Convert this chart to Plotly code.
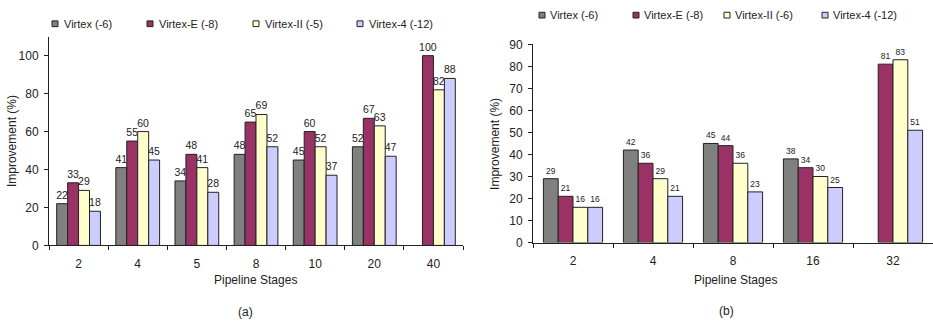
import plotly.graph_objects as go

# ---- data -------------------------------------------------------------
series_a = ["Virtex (-6)", "Virtex-E (-8)", "Virtex-II (-5)", "Virtex-4 (-12)"]
series_b = ["Virtex (-6)", "Virtex-E (-8)", "Virtex-II (-6)", "Virtex-4 (-12)"]
colors = ["#808080", "#993366", "#FFFFCC", "#CCCCFF"]

stages_a = ["2", "4", "5", "8", "10", "20", "40"]
virtex_a = [22, 41, 34, 48, 45, 52, None]
virtex_e_a = [33, 55, 48, 65, 60, 67, 100]
virtex_ii_a = [29, 60, 41, 69, 52, 63, 82]
virtex_4_a = [18, 45, 28, 52, 37, 47, 88]

stages_b = ["2", "4", "8", "16", "32"]
virtex_b = [29, 42, 45, 38, None]
virtex_e_b = [21, 36, 44, 34, 81]
virtex_ii_b = [16, 29, 36, 30, 83]
virtex_4_b = [16, 21, 23, 25, 51]

values_a = [virtex_a, virtex_e_a, virtex_ii_a, virtex_4_a]
values_b = [virtex_b, virtex_e_b, virtex_ii_b, virtex_4_b]

W, H = 933, 330
FONT = "Arial, Liberation Sans, sans-serif"


def px(x):
    return x / W


def py(y):
    return 1 - y / H


fig = go.Figure()

for name, col, vals in zip(series_a, colors, values_a):
    fig.add_trace(go.Bar(
        x=stages_a, y=vals, name=name, xaxis="x", yaxis="y",
        marker=dict(color=col, line=dict(color="#222222", width=1)),
        text=[("" if v is None else str(v)) for v in vals],
        textposition="outside", cliponaxis=False, constraintext="none",
        textfont=dict(size=10.5, color="#222222", family=FONT),
        showlegend=False,
    ))

for name, col, vals in zip(series_b, colors, values_b):
    fig.add_trace(go.Bar(
        x=stages_b, y=vals, name=name, xaxis="x2", yaxis="y2",
        marker=dict(color=col, line=dict(color="#222222", width=1)),
        text=[("" if v is None else str(v)) for v in vals],
        textposition="outside", cliponaxis=False, constraintext="none",
        textfont=dict(size=8.5, color="#222222", family=FONT),
        showlegend=False,
    ))

xcommon = dict(type="category", showline=True, linecolor="#222222", linewidth=1,
               ticks="outside", tickson="boundaries", ticklen=4, tickcolor="#222222",
               showgrid=False, zeroline=False, ticklabelstandoff=7,
               tickfont=dict(size=12, color="#222222", family=FONT))
ycommon = dict(showline=True, linecolor="#222222", linewidth=1,
               ticks="outside", ticklen=4, tickcolor="#222222",
               showgrid=False, zeroline=False, ticklabelstandoff=3,
               tickfont=dict(size=12, color="#222222", family=FONT))

fig.update_layout(
    width=W, height=H,
    margin=dict(l=0, r=0, t=0, b=0),
    paper_bgcolor="white", plot_bgcolor="white",
    barmode="group", bargap=0.26, bargroupgap=0,
    font=dict(family=FONT, color="#222222"),
    xaxis=dict(domain=[px(49), px(463)], anchor="y", **xcommon),
    yaxis=dict(domain=[py(249), py(31)], anchor="x", range=[0, 110], dtick=20, **ycommon),
    xaxis2=dict(domain=[px(533), 1.0], anchor="y2", **xcommon),
    yaxis2=dict(domain=[py(246), py(39)], anchor="x2", range=[0, 90], dtick=10, **ycommon),
)

# ---- legends ------------------------------------------------------------
legend_a = dict(y=17.5, marker_x=[52, 147, 253, 357], text_x=[62, 157, 263, 367])
legend_b = dict(y=8.5, marker_x=[539, 633, 724, 822], text_x=[548, 642, 733, 831])

shapes, annotations = [], []
for names, leg in ((series_a, legend_a), (series_b, legend_b)):
    for name, col, mx, tx in zip(names, colors, leg["marker_x"], leg["text_x"]):
        shapes.append(dict(type="rect", xref="paper", yref="paper",
                           x0=px(mx), x1=px(mx + 6), y0=py(leg["y"] + 3), y1=py(leg["y"] - 3),
                           fillcolor=col, line=dict(color="#222222", width=1)))
        annotations.append(dict(text=name, xref="paper", yref="paper",
                                x=px(tx), y=py(leg["y"]), xanchor="left", yanchor="middle",
                                showarrow=False, font=dict(size=11, family=FONT, color="#222222")))

# ---- axis titles and captions -------------------------------------------
labels = [
    ("Improvement (%)", 12, 140, -90),
    ("Improvement (%)", 495, 143, -90),
    ("Pipeline Stages", 255, 285, 0),
    ("Pipeline Stages", 735, 285, 0),
    ("(a)", 245, 318, 0),
    ("(b)", 726, 317, 0),
]
for txt, x, y, ang in labels:
    annotations.append(dict(text=txt, xref="paper", yref="paper", x=px(x), y=py(y),
                            xanchor="center", yanchor="middle", textangle=ang,
                            showarrow=False, font=dict(size=12, family=FONT, color="#222222")))

fig.update_layout(shapes=shapes, annotations=annotations)

fig.write_html("out.html")
